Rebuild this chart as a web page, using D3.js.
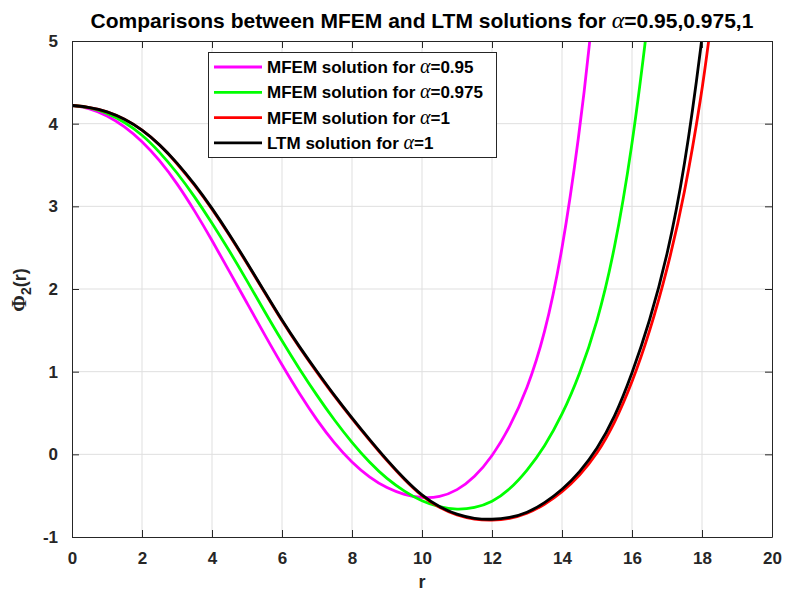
<!DOCTYPE html>
<html>
<head>
<meta charset="utf-8">
<script src="https://cdn.jsdelivr.net/npm/d3@7"></script>
<style>
  body { margin: 0; background: #fff; }
  svg text { font-family: "Liberation Sans", Arial, sans-serif; font-weight: bold; }
</style>
</head>
<body>
<svg id="chart" width="787" height="593"></svg>
<script>
// r values and Φ2(r) for every curve
const rMag = [0, 0.5, 1, 1.5, 2, 2.5, 3, 3.5, 4, 4.5, 5, 5.5, 6, 6.5, 7, 7.5, 8, 8.5, 9, 9.5, 10, 10.5, 11, 11.5, 12, 12.5, 13, 13.5, 14, 14.5, 14.8, 15];
const phiMag = [4.22, 4.19, 4.10, 3.97, 3.79, 3.56, 3.28, 2.95, 2.59, 2.21, 1.83, 1.45, 1.08, 0.73, 0.41, 0.13, -0.10, -0.28, -0.41, -0.49, -0.53, -0.52, -0.44, -0.28, -0.03, 0.32, 0.78, 1.43, 2.42, 3.88, 5.0, 5.9];

const rGreen = [0, 0.5, 1, 1.5, 2, 2.5, 3, 3.5, 4, 4.5, 5, 5.5, 6, 6.5, 7, 7.5, 8, 8.5, 9, 9.5, 10, 10.5, 11, 11.5, 12, 12.5, 13, 13.5, 14, 14.5, 15, 15.5, 16, 16.4, 16.6];
const phiGreen = [4.22, 4.20, 4.13, 4.02, 3.87, 3.66, 3.41, 3.12, 2.80, 2.46, 2.10, 1.73, 1.37, 1.03, 0.71, 0.41, 0.14, -0.10, -0.30, -0.45, -0.57, -0.64, -0.67, -0.65, -0.58, -0.43, -0.20, 0.09, 0.47, 0.96, 1.58, 2.45, 3.70, 5.05, 5.8];

const rRed = [0, 0.5, 1, 1.5, 2, 2.5, 3, 3.5, 4, 4.5, 5, 5.5, 6, 6.5, 7, 7.5, 8, 8.5, 9, 9.5, 10, 10.5, 11, 11.5, 12, 12.5, 13, 13.5, 14, 14.5, 15, 15.5, 16, 16.5, 17, 17.5, 18, 18.2, 18.4];
const phiRed = [4.22, 4.20, 4.15, 4.06, 3.93, 3.75, 3.52, 3.26, 2.97, 2.65, 2.31, 1.96, 1.61, 1.29, 0.99, 0.70, 0.43, 0.17, -0.08, -0.31, -0.51, -0.65, -0.74, -0.79, -0.80, -0.78, -0.72, -0.61, -0.46, -0.26, 0.00, 0.37, 0.86, 1.47, 2.22, 3.13, 4.38, 5.03, 5.7];

const rLtm = [0, 0.5, 1, 1.5, 2, 2.5, 3, 3.5, 4, 4.5, 5, 5.5, 6, 6.5, 7, 7.5, 8, 8.5, 9, 9.5, 10, 10.5, 11, 11.5, 12, 12.5, 13, 13.5, 14, 14.5, 15, 15.5, 16, 16.5, 17, 17.5, 18, 18.2];
const phiLtm = [4.22, 4.20, 4.15, 4.06, 3.93, 3.75, 3.53, 3.27, 2.98, 2.66, 2.32, 1.97, 1.62, 1.30, 1.00, 0.71, 0.44, 0.18, -0.07, -0.30, -0.50, -0.64, -0.73, -0.78, -0.79, -0.77, -0.71, -0.59, -0.43, -0.22, 0.06, 0.44, 0.97, 1.60, 2.38, 3.44, 5.0, 5.8];

const xTicks = d3.range(0, 21, 2);
const yTicks = [-1, 0, 1, 2, 3, 4, 5];

const seriesList = [
  { name: "MFEM solution for ", alpha: "=0.95", r: rMag, phi: phiMag, color: "#ff00ff" },
  { name: "MFEM solution for ", alpha: "=0.975", r: rGreen, phi: phiGreen, color: "#00ff00" },
  { name: "MFEM solution for ", alpha: "=1", r: rRed, phi: phiRed, color: "#ff0000" },
  { name: "LTM solution for ", alpha: "=1", r: rLtm, phi: phiLtm, color: "#000000" }
];

const svg = d3.select("#chart");
const plotLeft = 72, plotRight = 772, plotTop = 41, plotBottom = 537;

const x = d3.scaleLinear().domain([0, 20]).range([plotLeft, plotRight]);
const y = d3.scaleLinear().domain([-1, 5]).range([plotBottom, plotTop]);

// grid
svg.append("g")
  .selectAll("line")
  .data(xTicks.slice(1, -1))
  .join("line")
  .attr("x1", d => x(d)).attr("x2", d => x(d))
  .attr("y1", plotTop).attr("y2", plotBottom)
  .attr("stroke", "#dfdfdf").attr("stroke-width", 1);

svg.append("g")
  .selectAll("line")
  .data(yTicks.slice(1, -1))
  .join("line")
  .attr("x1", plotLeft).attr("x2", plotRight)
  .attr("y1", d => y(d)).attr("y2", d => y(d))
  .attr("stroke", "#dfdfdf").attr("stroke-width", 1);

// curves
svg.append("clipPath").attr("id", "clip")
  .append("rect").attr("x", plotLeft).attr("y", plotTop)
  .attr("width", plotRight - plotLeft).attr("height", plotBottom - plotTop);

const line = d3.line()
  .x(d => x(d[0]))
  .y(d => y(d[1]))
  .curve(d3.curveBasis);

seriesList.forEach(s => {
  svg.append("path")
    .datum(s.r.map((r, i) => [r, s.phi[i]]))
    .attr("clip-path", "url(#clip)")
    .attr("fill", "none")
    .attr("stroke", s.color)
    .attr("stroke-width", 2.8)
    .attr("d", line);
});

// axes: ticks inside, on all four sides
const tickLen = 7;
const axisColor = "#262626";
const fmt = d => String(d);

const bottomAxis = svg.append("g")
  .attr("transform", `translate(0, ${plotBottom})`)
  .call(d3.axisBottom(x).tickValues(xTicks).tickFormat(fmt).tickSizeInner(-tickLen).tickSizeOuter(0).tickPadding(15));
const topAxis = svg.append("g")
  .attr("transform", `translate(0, ${plotTop})`)
  .call(d3.axisTop(x).tickValues(xTicks).tickSizeInner(-tickLen).tickSizeOuter(0).tickFormat(""));
const leftAxis = svg.append("g")
  .attr("transform", `translate(${plotLeft}, 0)`)
  .call(d3.axisLeft(y).tickValues(yTicks).tickFormat(fmt).tickSizeInner(-tickLen).tickSizeOuter(0).tickPadding(14));
const rightAxis = svg.append("g")
  .attr("transform", `translate(${plotRight}, 0)`)
  .call(d3.axisRight(y).tickValues(yTicks).tickSizeInner(-tickLen).tickSizeOuter(0).tickFormat(""));

[bottomAxis, topAxis, leftAxis, rightAxis].forEach(g => {
  g.select(".domain").attr("stroke", axisColor).attr("stroke-width", 1);
  g.selectAll(".tick line").attr("stroke", axisColor);
  g.selectAll(".tick text")
    .attr("font-family", "Liberation Sans, Arial, sans-serif")
    .attr("font-weight", "bold")
    .attr("font-size", 17)
    .attr("fill", axisColor);
});

// title
const title = svg.append("text")
  .attr("x", (plotLeft + plotRight) / 2)
  .attr("y", 28)
  .attr("text-anchor", "middle")
  .attr("font-size", 21)
  .attr("fill", "#000");
title.append("tspan").text("Comparisons between MFEM and LTM solutions for ");
title.append("tspan").attr("font-family", "Liberation Serif, serif").attr("font-style", "italic").attr("font-weight", "normal").attr("font-size", 24).text("α");
title.append("tspan").text("=0.95,0.975,1");

// axis labels
svg.append("text")
  .attr("x", (plotLeft + plotRight) / 2)
  .attr("y", 588)
  .attr("text-anchor", "middle")
  .attr("font-size", 18)
  .attr("fill", axisColor)
  .text("r");

const yLab = svg.append("text")
  .attr("transform", "translate(26, 290) rotate(-90)")
  .attr("text-anchor", "middle")
  .attr("font-size", 18)
  .attr("fill", axisColor);
yLab.append("tspan").attr("font-family", "Liberation Serif, serif").attr("font-size", 20).text("Φ");
yLab.append("tspan").attr("font-size", 14).attr("dy", 5).text("2");
yLab.append("tspan").attr("dy", -5).text("(r)");

// legend
const legend = svg.append("g");
legend.append("rect")
  .attr("x", 208.5).attr("y", 52.5)
  .attr("width", 288).attr("height", 105)
  .attr("fill", "#fff")
  .attr("stroke", axisColor).attr("stroke-width", 1);

seriesList.forEach((s, i) => {
  const yy = 67 + i * 25.3;
  legend.append("line")
    .attr("x1", 214).attr("x2", 262)
    .attr("y1", yy).attr("y2", yy)
    .attr("stroke", s.color).attr("stroke-width", 2.8);
  const t = legend.append("text")
    .attr("x", 267).attr("y", yy + 6)
    .attr("font-size", 17)
    .attr("fill", "#000");
  t.append("tspan").text(s.name);
  t.append("tspan").attr("font-family", "Liberation Serif, serif").attr("font-style", "italic").attr("font-weight", "normal").attr("font-size", 20).text("α");
  t.append("tspan").text(s.alpha);
});
</script>
</body>
</html>
